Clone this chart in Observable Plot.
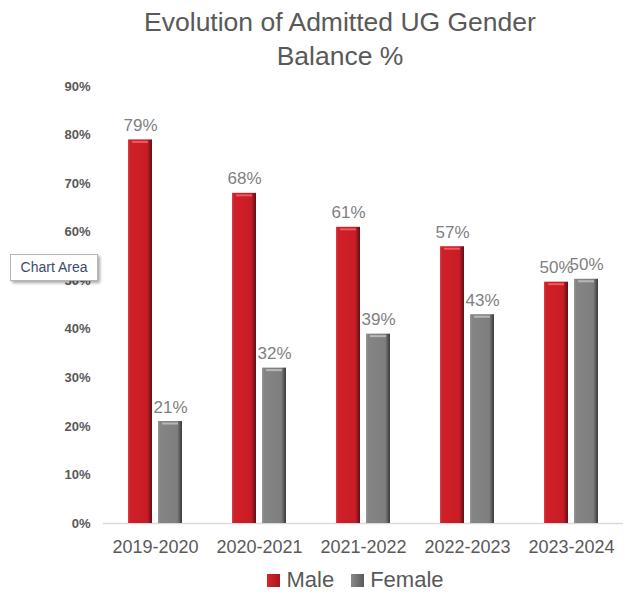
<!DOCTYPE html>
<html>
<head>
<meta charset="utf-8">
<script src="https://cdn.jsdelivr.net/npm/d3@7"></script>
<script src="https://cdn.jsdelivr.net/npm/@observablehq/plot@0.6"></script>
<style>
  html, body { margin: 0; padding: 0; background: #fff; }
  #wrap { position: relative; width: 643px; height: 597px; overflow: hidden; font-family: "Liberation Sans", Arial, sans-serif; }
  #title { position: absolute; left: 0; width: 680px; top: 5px; text-align: center; font-size: 26.5px; line-height: 34px; color: #595959; }
  #chart { position: absolute; left: 0; top: 70px; }
  #legend { position: absolute; left: 0; width: 643px; top: 567px; display: flex; justify-content: center; gap: 17px; font-size: 22px; color: #595959; padding-left: 68px; box-sizing: border-box; }
  #legend span.item { display: flex; align-items: center; gap: 6px; }
  #legend span.sw { width: 13px; height: 13px; display: inline-block; }
  #tip { position: absolute; left: 10px; top: 254px; width: 86px; height: 25px; border: 1px solid #b5b5b5; background: #fff; box-shadow: 2px 2px 3px rgba(0,0,0,0.35); font-size: 14px; color: #3d4b6b; line-height: 25px; text-align: center; }
</style>
</head>
<body>
<div id="wrap">
  <div id="title">Evolution of Admitted UG Gender<br>Balance %</div>
  <div id="chart"></div>
  <div id="legend">
    <span class="item"><span class="sw" style="background:linear-gradient(90deg,#d4262e,#a8161d);"></span>Male</span>
    <span class="item"><span class="sw" style="background:linear-gradient(90deg,#8a8a8a,#5a5a5a);"></span>Female</span>
  </div>
  <div id="tip">Chart Area</div>
</div>
<script>
const years = ["2019-2020", "2020-2021", "2021-2022", "2022-2023", "2023-2024"];
const maleValues = [0.79, 0.68, 0.61, 0.57, 0.497];
const femaleValues = [0.21, 0.32, 0.39, 0.43, 0.503];
const genders = ["Male", "Female"];
const yTicks = [0, 0.1, 0.2, 0.3, 0.4, 0.5, 0.6, 0.7, 0.8, 0.9];

const data = [];
years.forEach((y, i) => {
  data.push({year: y, gender: "Male", value: maleValues[i]});
  data.push({year: y, gender: "Female", value: femaleValues[i]});
});
const male = data.filter(d => d.gender === "Male");
const female = data.filter(d => d.gender === "Female");

const chart = Plot.plot({
  width: 643,
  height: 495,
  marginLeft: 103,
  marginRight: 20,
  marginTop: 16,
  marginBottom: 42,
  style: {fontFamily: "Liberation Sans, Arial, sans-serif", background: "transparent"},
  fx: {domain: years, padding: 0, label: null, axis: null},
  x: {domain: genders, paddingInner: 0.2, paddingOuter: 0.833, axis: null},
  y: {domain: [0, 0.9], axis: null},
  marks: [
    Plot.ruleY([0], {stroke: "#d9d9d9", strokeWidth: 1.5}),
    Plot.barY(male, {fx: "year", x: "gender", y: "value", fill: "url(#gMale)"}),
    Plot.barY(female, {fx: "year", x: "gender", y: "value", fill: "url(#gFemale)"}),
    Plot.tickY(male, {fx: "year", x: "gender", y: "value", stroke: "#f0585c", strokeWidth: 2, dy: 2, inset: 4}),
    Plot.tickY(female, {fx: "year", x: "gender", y: "value", stroke: "#b8b8b8", strokeWidth: 2, dy: 2, inset: 4}),
    Plot.text(data, {fx: "year", x: "gender", y: "value", text: d => Math.round(d.value * 100) + "%", lineAnchor: "bottom", dy: -9, fontSize: 17, fill: "#7f7f7f"}),
    Plot.axisY(yTicks, {anchor: "left", label: null, tickSize: 0, tickPadding: 13, tickFormat: d => Math.round(d * 100) + "%", fontSize: 13, fontWeight: "bold", fill: "#595959"}),
    Plot.axisFx({anchor: "bottom", tickSize: 0, tickPadding: 17, fontSize: 18, fill: "#595959", label: null})
  ]
});

const svg = d3.select(chart);
const defs = svg.insert("defs", ":first-child");
const gm = defs.append("linearGradient").attr("id", "gMale").attr("x1", "0").attr("x2", "1").attr("y1", "0").attr("y2", "0");
gm.append("stop").attr("offset", "0").attr("stop-color", "#d8454a");
gm.append("stop").attr("offset", "0.08").attr("stop-color", "#cf1f28");
gm.append("stop").attr("offset", "0.8").attr("stop-color", "#c81d26");
gm.append("stop").attr("offset", "1").attr("stop-color", "#5c1014");
const gf = defs.append("linearGradient").attr("id", "gFemale").attr("x1", "0").attr("x2", "1").attr("y1", "0").attr("y2", "0");
gf.append("stop").attr("offset", "0").attr("stop-color", "#9a9a9a");
gf.append("stop").attr("offset", "0.08").attr("stop-color", "#858585");
gf.append("stop").attr("offset", "0.8").attr("stop-color", "#7e7e7e");
gf.append("stop").attr("offset", "1").attr("stop-color", "#3a3a3a");

document.getElementById("chart").appendChild(chart);
</script>
</body>
</html>
